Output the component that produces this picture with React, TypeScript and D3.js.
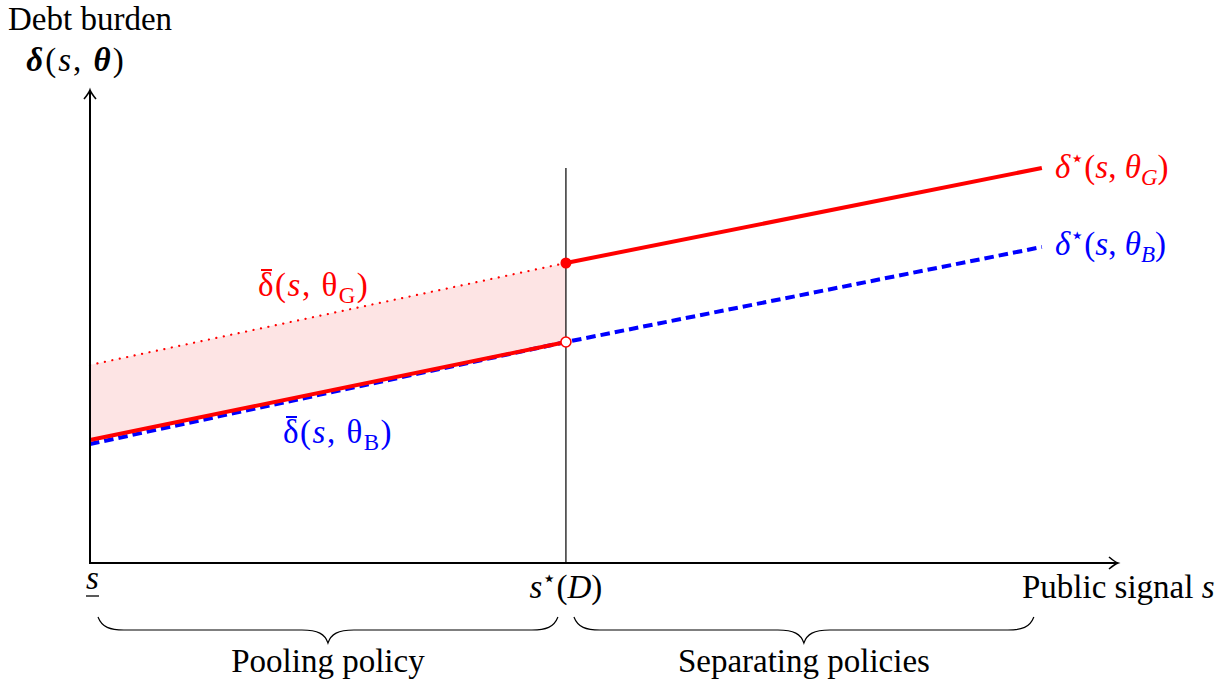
import React from 'react';
import * as d3 from 'd3';

// signal positions (s_ = 0, s* = 5, end of plotted range = 10)
const sLow = 0;
const sStar = 5;
const sHigh = 10;
const sAxisMax = 10.8;

// debt burden values
const pooledGood = [1.98, 3.0];     // δ̄(s, θG) dotted, s_ -> s*
const pooledBad = [1.23, 2.21];     // lower red solid, s_ -> s*
const separGood = [3.0, 3.95];      // δ*(s, θG) solid, s* -> end
const starBad = [1.19, 2.21, 3.16]; // δ*(s, θB) dashed, s_ -> s* -> end
const yAxisMax = 4.73;

const braceLabels = ['Pooling policy', 'Separating policies'];

const W = 1229;
const H = 686;
const origin = { x: 90, y: 563 };
const serif = '"Liberation Serif", "DejaVu Serif", serif';
const fs = 33;

const x = d3.scaleLinear().domain([0, sAxisMax]).range([origin.x, 1118]);
const y = d3.scaleLinear().domain([0, yAxisMax]).range([origin.y, 90]);

type P = [number, number];
const line = d3.line<P>().x(d => x(d[0])).y(d => y(d[1]));
const area = d3.area<[number, number, number]>()
  .x(d => x(d[0]))
  .y0(d => y(d[1]))
  .y1(d => y(d[2]));

// curly brace opening upward, cusp pointing down in the middle
function brace(x1: number, x2: number, top: number) {
  const h = 13;
  const r = 26;
  const mid = (x1 + x2) / 2;
  return `M${x1},${top} C${x1 + 4},${top + h * 0.8} ${x1 + 12},${top + h} ${x1 + r},${top + h}`
    + ` L${mid - r},${top + h} C${mid - 10},${top + h} ${mid - 3},${top + h + 4} ${mid},${top + 2 * h}`
    + ` C${mid + 3},${top + h + 4} ${mid + 10},${top + h} ${mid + r},${top + h}`
    + ` L${x2 - r},${top + h} C${x2 - 12},${top + h} ${x2 - 4},${top + h * 0.8} ${x2},${top}`;
}

function arrowHead(px: number, py: number, dir: 'up' | 'right') {
  const d = 'M-6,-9 Q-1,-3 0,0 Q1,-3 6,-9';
  const rot = dir === 'up' ? 180 : -90;
  return <path d={d} transform={`translate(${px},${py}) rotate(${rot})`} fill="none" stroke="black" strokeWidth={1.6} />;
}

// δ* (s, θ_sub)
function StarLabel({ tx, ty, color, sub }: { tx: number; ty: number; color: string; sub: string }) {
  return (
    <text x={tx} y={ty} fontSize={fs} fill={color}>
      <tspan fontStyle="italic">δ</tspan><tspan fontSize={23} dy={-12}>⋆</tspan><tspan dy={12}>(</tspan><tspan fontStyle="italic">s</tspan>,  <tspan fontStyle="italic">θ</tspan><tspan fontSize={23} dy={7} fontStyle="italic">{sub}</tspan><tspan dy={-7}>)</tspan>
    </text>
  );
}

// δ̄ (s, θ_sub) with a drawn bar
function BarLabel({ tx, ty, color, sub }: { tx: number; ty: number; color: string; sub: string }) {
  return (
    <g fill={color}>
      <line x1={tx + 3} x2={tx + 14} y1={ty - 26} y2={ty - 26} stroke={color} strokeWidth={2} />
      <text x={tx} y={ty} fontSize={fs} letterSpacing={1.5}>
        δ(<tspan fontStyle="italic">s</tspan>, θ<tspan fontSize={23} dy={7}>{sub}</tspan><tspan dy={-7}>)</tspan>
      </text>
    </g>
  );
}

export default function App() {
  const x0 = x(sLow);
  const xs = x(sStar);
  const shade: [number, number, number][] = [
    [sLow, pooledBad[0], pooledGood[0]],
    [sStar, pooledBad[1], pooledGood[1]],
  ];
  const braceTop = 617;

  return (
    <svg width={W} height={H} style={{ position: 'absolute', left: 0, top: 0 }} fontFamily={serif}>
      <rect width={W} height={H} fill="white" />

      {/* shaded pooling region */}
      <path d={area(shade) as string} fill="#fde4e4" />

      {/* vertical line at s* */}
      <line x1={xs} x2={xs} y1={168} y2={origin.y} stroke="black" strokeWidth={1.2} />

      {/* dotted pooled good */}
      <path d={line([[sLow, pooledGood[0]], [sStar, pooledGood[1]]]) as string}
        stroke="red" strokeWidth={2.2} strokeDasharray="0.1 7.5" strokeLinecap="round" fill="none" />

      {/* blue dashed */}
      <path d={line([[sLow, starBad[0]], [sStar, starBad[1]], [sHigh, starBad[2]]]) as string}
        stroke="blue" strokeWidth={4} strokeDasharray="9.5 5" fill="none" />

      {/* red solid lower (pooled) */}
      <path d={line([[sLow, pooledBad[0]], [sStar, pooledBad[1]]]) as string}
        stroke="red" strokeWidth={4} fill="none" />

      {/* red solid separating */}
      <path d={line([[sStar, separGood[0]], [sHigh, separGood[1]]]) as string}
        stroke="red" strokeWidth={4} fill="none" />

      <circle cx={xs} cy={y(separGood[0])} r={5.5} fill="red" />
      <circle cx={xs} cy={y(pooledBad[1])} r={5} fill="white" stroke="red" strokeWidth={1.6} />

      {/* axes */}
      <line x1={origin.x} x2={origin.x} y1={origin.y + 1} y2={y(yAxisMax) + 1} stroke="black" strokeWidth={2} />
      <line x1={origin.x - 1} x2={x(sAxisMax) - 1} y1={origin.y} y2={origin.y} stroke="black" strokeWidth={2} />
      {arrowHead(origin.x, y(yAxisMax), 'up')}
      {arrowHead(x(sAxisMax), origin.y, 'right')}

      {/* axis titles */}
      <text x={8} y={30} fontSize={fs}>Debt burden</text>
      <text x={76} y={71} fontSize={fs} textAnchor="middle" letterSpacing={2}>
        <tspan fontStyle="italic" fontWeight="bold">δ</tspan>(<tspan fontStyle="italic">s</tspan>, <tspan fontStyle="italic" fontWeight="bold">θ</tspan>)
      </text>
      <text x={1022} y={598} fontSize={fs}>Public signal <tspan fontStyle="italic">s</tspan></text>

      {/* ticks */}
      <text x={x0 - 4} y={589} fontSize={fs} fontStyle="italic">s</text>
      <line x1={x0 - 4} x2={x0 + 9} y1={596} y2={596} stroke="black" strokeWidth={1.3} />
      <text x={xs} y={598} fontSize={fs} textAnchor="middle">
        <tspan fontStyle="italic">s</tspan><tspan fontSize={23} dy={-12}>⋆</tspan><tspan dy={12}>(</tspan><tspan fontStyle="italic">D</tspan>)
      </text>

      {/* series labels */}
      <StarLabel tx={1055} ty={178} color="red" sub="G" />
      <StarLabel tx={1055} ty={255} color="blue" sub="B" />
      <BarLabel tx={258} ty={296} color="red" sub="G" />
      <BarLabel tx={283} ty={443} color="blue" sub="B" />

      {/* braces */}
      <path d={brace(x0 + 8, xs - 8, braceTop)} fill="none" stroke="black" strokeWidth={1.2} />
      <path d={brace(xs + 8, x(sHigh) - 8, braceTop)} fill="none" stroke="black" strokeWidth={1.2} />
      <text x={(x0 + xs) / 2} y={672} fontSize={fs} textAnchor="middle">{braceLabels[0]}</text>
      <text x={(xs + x(sHigh)) / 2} y={672} fontSize={fs} textAnchor="middle">{braceLabels[1]}</text>
    </svg>
  );
}
